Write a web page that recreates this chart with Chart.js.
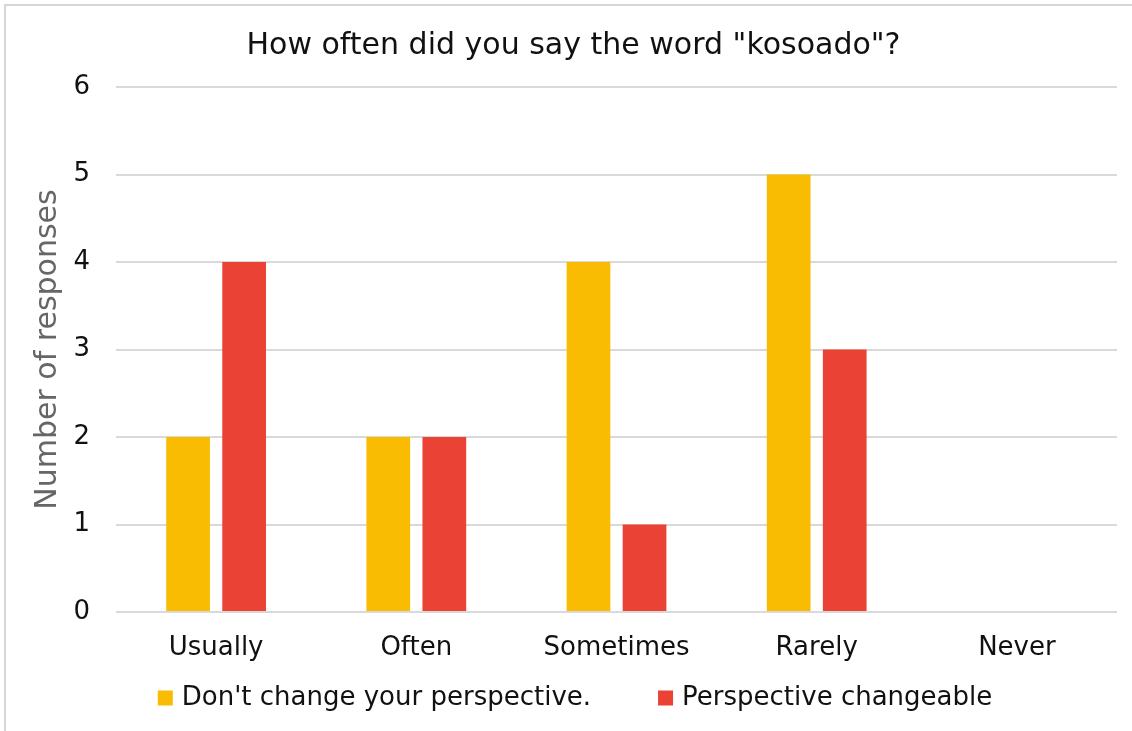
<!DOCTYPE html>
<html>
<head>
<meta charset="utf-8">
<script src="https://cdn.jsdelivr.net/npm/chart.js@4.4.1/dist/chart.umd.min.js"></script>
<style>
  html, body { margin: 0; padding: 0; background: #fff; }
  #frame {
    position: absolute; left: 4px; top: 4px; width: 1128px; height: 727px;
    border-top: 2px solid #d6d6d6; border-left: 2px solid #d6d6d6;
    box-sizing: border-box;
  }
  #wrap { position: absolute; left: 0; top: 0; width: 1132px; height: 731px; }
</style>
</head>
<body>
<div id="frame"></div>
<div id="wrap"><canvas id="chart"></canvas></div>
<script>
  const categories = ["Usually", "Often", "Sometimes", "Rarely", "Never"];
  const fixedView = [2, 2, 4, 5, 0];
  const changeable = [4, 2, 1, 3, 0];
  const yTicks = [0, 1, 2, 3, 4, 5, 6];

  const FONT = "'DejaVu Sans', 'Liberation Sans', Arial, sans-serif";

  // legend drawn by hand: the sheet's legend spaces its items much wider than Chart.js does
  const bottomLegend = {
    id: "bottomLegend",
    afterDraw(chart) {
      const ctx = chart.ctx;
      const box = 15, gap = 9, spacing = 67;
      const y = 698;
      ctx.save();
      ctx.font = "26px " + FONT;
      ctx.textBaseline = "middle";
      const items = chart.data.datasets.map(ds => ({
        text: ds.label, color: ds.backgroundColor, w: ctx.measureText(ds.label).width
      }));
      const total = items.reduce((s, it) => s + box + gap + it.w, 0) + spacing * (items.length - 1);
      let x = chart.width / 2 + 9 - total / 2;
      items.forEach(it => {
        ctx.fillStyle = it.color;
        ctx.fillRect(x, y - box / 2, box, box);
        x += box + gap;
        ctx.fillStyle = "#111";
        ctx.fillText(it.text, x, y);
        x += it.w + spacing;
      });
      ctx.restore();
    }
  };

  new Chart(document.getElementById("chart"), {
    type: "bar",
    data: {
      labels: categories,
      datasets: [
        { label: "Don't change your perspective.", data: fixedView, backgroundColor: "#F9BC02" },
        { label: "Perspective changeable", data: changeable, backgroundColor: "#EA4335" }
      ]
    },
    options: {
      responsive: true,
      maintainAspectRatio: false,
      animation: false,
      categoryPercentage: 0.56,
      barPercentage: 0.78,
      layout: { padding: { left: 30, right: 15, top: 28, bottom: 67 } },
      plugins: {
        title: {
          display: true,
          text: 'How often did you say the word "kosoado"?',
          color: "#111",
          font: { family: FONT, size: 30, weight: "normal" },
          padding: { top: 0, bottom: 23 }
        },
        legend: { display: false },
        tooltip: { enabled: false }
      },
      scales: {
        x: {
          clip: false,
          grid: { display: false },
          border: { display: false },
          ticks: { color: "#111", font: { family: FONT, size: 26 }, padding: 13 },
          afterFit: (scale) => { scale.height = 52; }
        },
        y: {
          min: 0,
          max: 6,
          afterBuildTicks: (axis) => { axis.ticks = yTicks.map(v => ({ value: v })); },
          afterFit: (scale) => { scale.width = 86; },
          grid: { color: "#d9d9d9", lineWidth: 2, drawTicks: false },
          border: { display: false },
          ticks: { color: "#111", font: { family: FONT, size: 26 }, padding: 26 },
          title: {
            display: true,
            text: "Number of responses",
            color: "#666",
            font: { family: FONT, size: 30 },
            padding: { top: 0, bottom: 8 }
          }
        }
      }
    },
    plugins: [bottomLegend]
  });
</script>
</body>
</html>
